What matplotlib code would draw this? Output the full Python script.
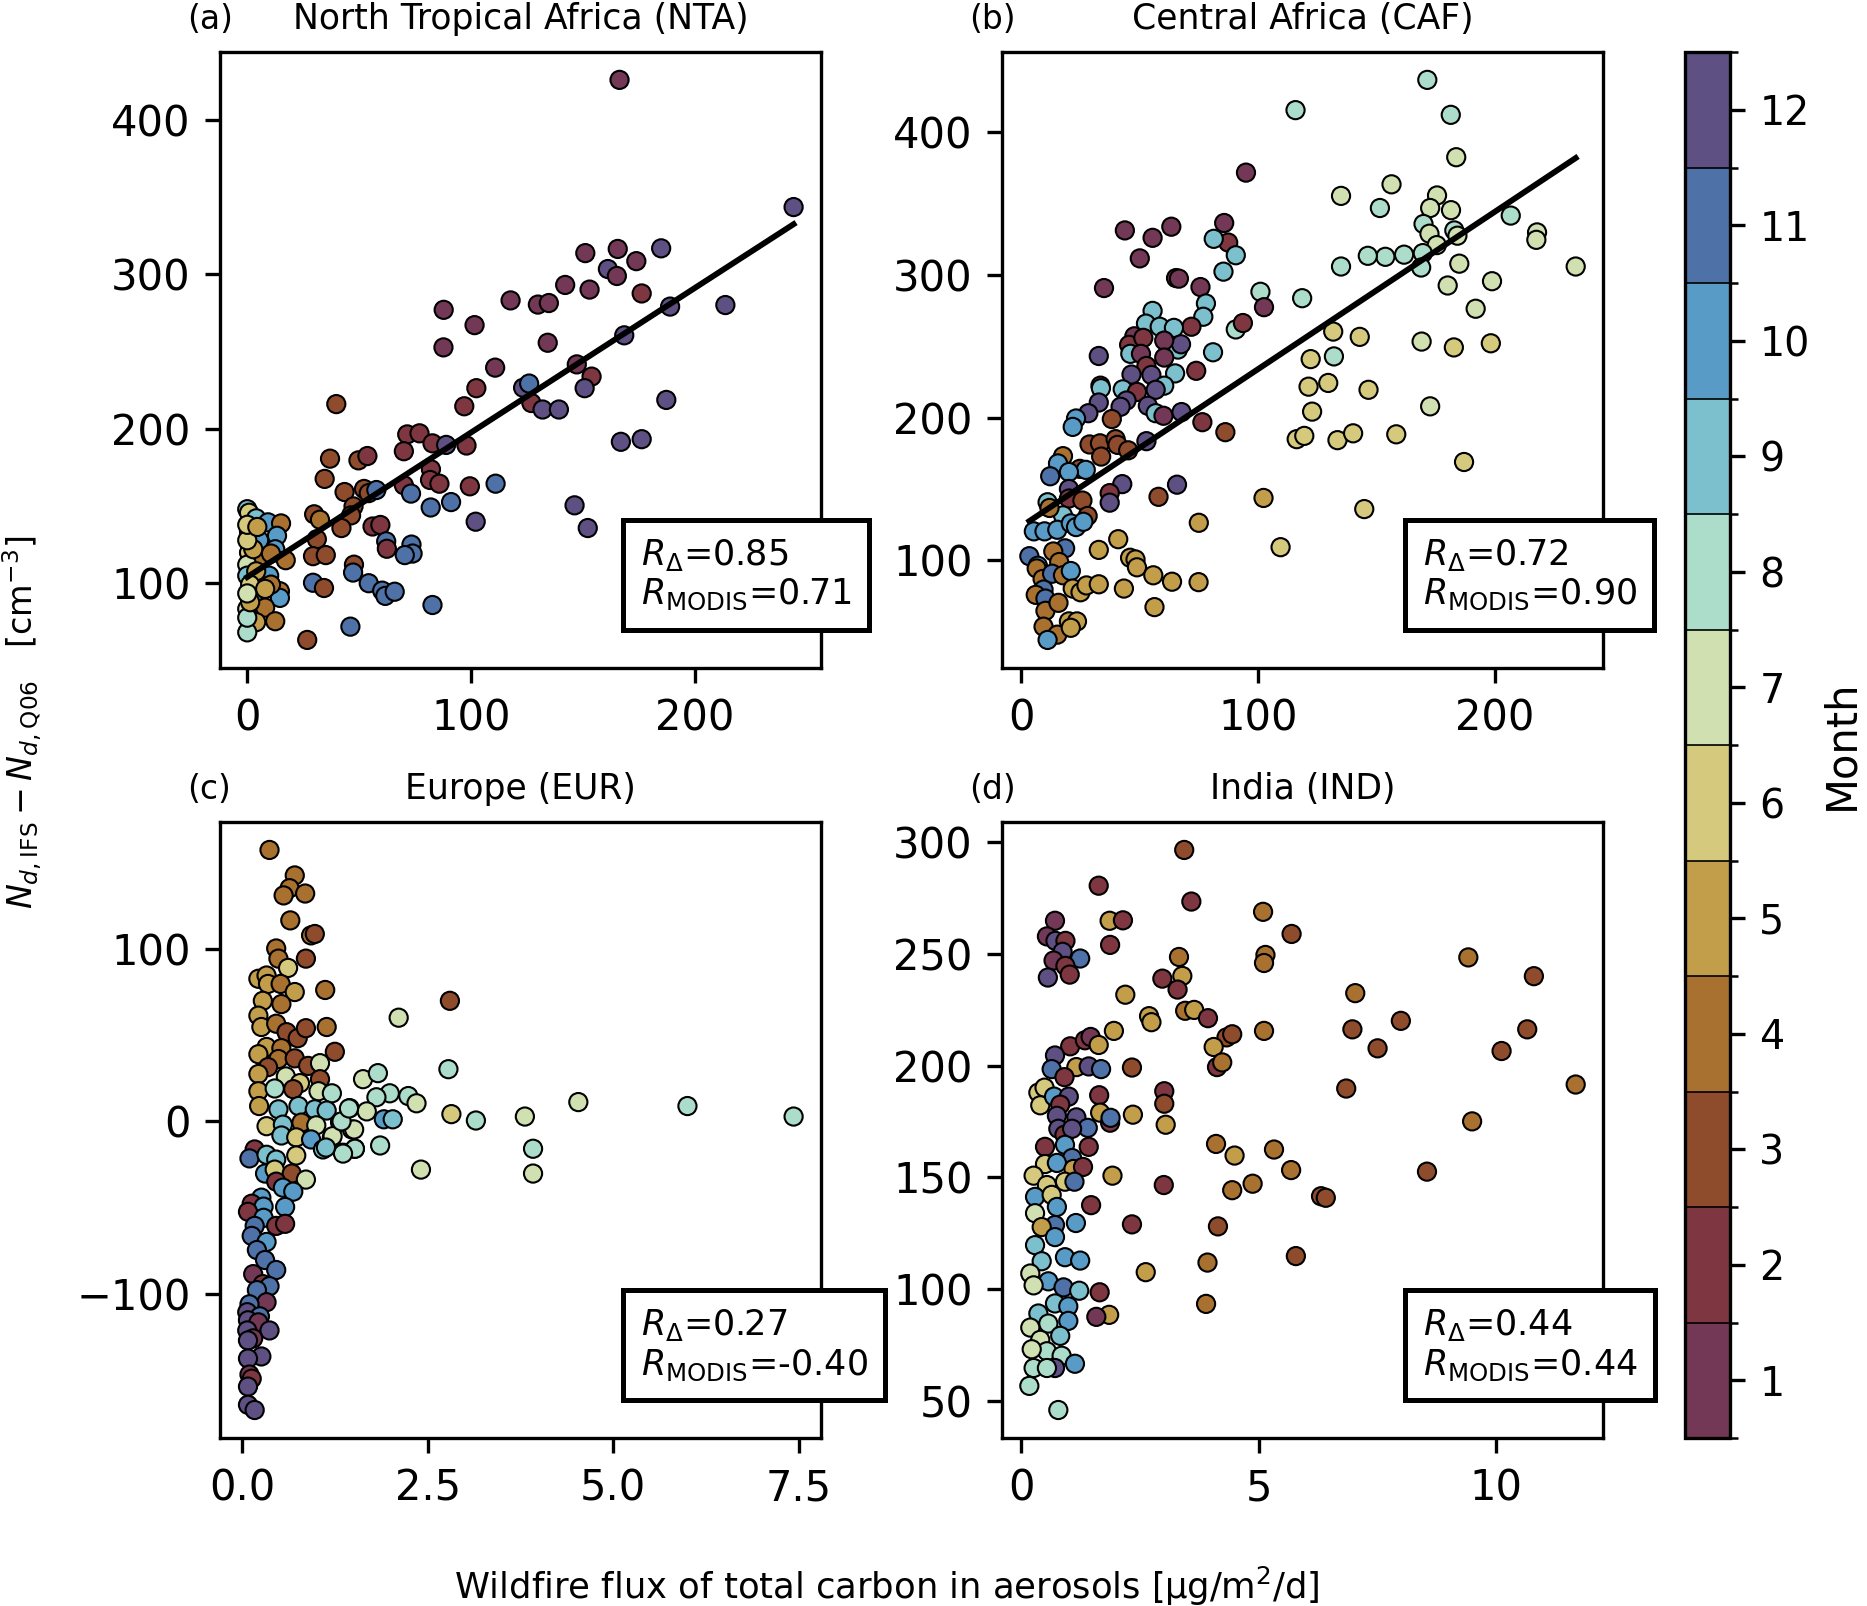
import matplotlib
matplotlib.use("Agg")
import matplotlib.pyplot as plt
import matplotlib.ticker as mticker
import numpy as np
from matplotlib.colors import BoundaryNorm, ListedColormap
from matplotlib.cm import ScalarMappable

# month colours (1 = Jan ... 12 = Dec)
month_colors = ["#723855", "#7e3740", "#8f4c2c", "#a8712f", "#c29d4a", "#d4c97c",
                "#d1e0b0", "#acdcca", "#7bc0cc", "#579bc6", "#4e72a8", "#5e5083"]
month_ticks = list(range(1, 13))

# (a) North Tropical Africa
nta_x = [166.4, 244.2, 151.1, 165.6, 173.9, 185.0, 161.2, 165.2, 142.1, 153.0, 176.3, 117.7,
         129.9, 134.8, 87.8, 101.6, 189.0, 213.7, 87.7, 134.3, 168.5, 110.8, 147.3, 153.9,
         102.4, 123.3, 126.0, 150.8, 187.3, 127.0, 132.0, 139.3, 97.0, 39.8, 167.0, 176.3,
         71.5, 77.0, 70.0, 82.8, 88.9, 98.0, 37.0, 49.7, 53.7, 34.6, 82.1, 81.7, 85.9, 70.0,
         99.5, 111.0, 43.5, 52.2, 54.3, 57.7, 73.2, 82.0, 91.1, 47.5, 46.4, 29.9, 32.5, 102.1,
         146.3, 152.2, 42.1, 56.0, 59.5, 31.1, 62.1, 62.4, 73.4, 73.9, 70.4, 29.4, 35.1, 47.7,
         47.3, 29.4, 34.3, 54.3, 60.3, 61.7, 65.9, 82.8, 46.1, 26.8,
         0.0, 0.8, 4.0, 9.3, 15.1, 0.8, 5.3, 13.3, 0.8, 12.5, 17.2, 6.6, 0.0, 0.0, 6.6, 9.8,
         11.9, 14.6, 14.6, 2.7, 0.0, 8.0, 4.0, 12.5, 0.0, 0.0, 2.7, 4.0, 10.6, 1.3, 1.3, 8.0,
         0.0, 0.0, 4.5, 10.6, 0.0]
nta_y = [425.7, 343.4, 313.6, 316.3, 308.4, 316.7, 303.3, 298.8, 293.0, 290.0, 287.5, 283.0,
         280.3, 281.3, 276.9, 267.0, 279.0, 280.0, 252.6, 255.6, 260.4, 239.5, 241.6, 233.7,
         226.2, 226.5, 229.2, 226.2, 218.6, 216.6, 212.4, 212.4, 214.5, 215.9, 191.5, 193.2,
         196.3, 197.0, 185.4, 190.5, 189.5, 189.1, 180.6, 179.5, 182.3, 167.5, 173.7, 166.8,
         164.4, 163.4, 162.7, 164.4, 159.0, 161.0, 158.3, 160.3, 158.0, 149.0, 152.5, 149.7,
         143.9, 144.6, 141.1, 139.8, 150.4, 135.7, 135.7, 136.7, 137.7, 128.5, 127.1, 122.3,
         125.0, 119.2, 118.2, 117.5, 118.2, 112.0, 106.9, 100.3, 96.9, 100.0, 95.2, 91.8, 94.5,
         85.9, 71.9, 63.3,
         147.9, 145.6, 142.0, 139.4, 138.7, 133.5, 127.8, 130.7, 119.8, 122.0, 114.9, 116.3,
         112.0, 104.9, 102.0, 104.9, 96.3, 94.8, 90.5, 92.0, 83.4, 84.2, 74.8, 75.4, 68.2, 77.7,
         122.0, 107.7, 99.1, 99.1, 87.7, 96.3, 127.8, 137.8, 136.4, 119.2, 93.4]
nta_month = [1, 12, 1, 1, 1, 12, 12, 1, 1, 1, 2, 1, 1, 1, 1, 1, 12, 12, 1, 1, 12, 1, 1, 2,
             2, 12, 11, 12, 12, 2, 12, 12, 2, 3, 12, 12, 2, 2, 2, 2, 12, 2, 3, 3, 2, 3, 2, 2,
             2, 2, 2, 11, 3, 3, 3, 11, 11, 11, 11, 3, 3, 3, 4, 12, 12, 12, 3, 2, 2, 3, 11, 2,
             11, 11, 11, 3, 3, 3, 11, 11, 3, 11, 11, 11, 11, 11, 11, 3,
             9, 6, 9, 10, 4, 9, 10, 10, 6, 10, 4, 4, 7, 9, 10, 10, 5, 4, 10, 10, 7, 4, 5, 4,
             8, 8, 5, 5, 4, 6, 5, 5, 6, 6, 5, 4, 7]

# (b) Central Africa
caf_x = [171.4, 115.8, 181.3, 183.6, 94.9, 135.0, 156.3, 151.4, 175.5, 172.6, 181.4, 169.8,
         172.3, 175.4, 182.8, 184.1, 206.6, 217.7, 217.4, 234.0, 169.5, 168.8, 161.6, 153.7,
         146.3, 135.0, 184.9, 180.0, 198.7, 191.8, 169.0, 182.6, 198.2, 172.6, 186.9, 131.7,
         142.9, 122.2, 132.0, 121.3, 129.6, 146.6, 122.8, 116.3, 119.5, 133.5, 140.1, 158.3,
         144.8, 109.5, 102.3, 75.0, 118.6, 101.0, 102.5, 90.6, 93.6, 85.7, 87.4, 81.3, 90.6,
         85.4, 63.4, 55.5, 43.8, 50.1, 65.4, 66.6, 75.7, 35.0, 78.0, 76.9, 71.9, 55.5, 52.7,
         58.5, 64.5, 66.2, 67.5, 60.4, 47.8, 45.6, 51.6, 46.1, 50.6, 60.4, 81.0, 32.8, 52.9,
         46.6, 55.0, 65.0, 60.4, 56.8, 73.9, 33.5, 33.7, 42.9, 48.9, 44.5, 42.0, 32.8, 28.4,
         53.5, 56.8, 60.1, 67.7, 38.3, 23.2, 21.8, 76.5, 86.2, 52.9, 28.9, 33.3, 39.9, 40.7,
         45.2, 33.8, 17.7, 15.6, 24.8, 27.3, 20.2, 12.3, 42.7, 65.8, 37.4, 37.4, 58.0, 20.2,
         20.2, 25.9, 11.2, 28.1, 17.7, 12.0, 5.4, 9.9, 15.3, 21.0, 23.2, 26.3, 18.6, 3.5, 7.1,
         13.6, 16.1, 6.6, 9.1, 13.1, 17.7, 21.0, 9.5, 6.2, 10.3, 10.3, 15.8, 9.5, 15.3, 11.2,
         20.2, 23.6, 21.0, 21.8, 25.1, 27.6, 32.8, 32.8, 41.0, 43.4, 46.0, 48.3, 48.9, 55.8,
         56.3, 63.7, 74.9]
caf_y = [436.8, 415.6, 412.3, 382.6, 371.8, 355.5, 363.6, 347.0, 355.8, 347.0, 345.5, 335.8,
         329.0, 321.0, 331.3, 327.6, 341.7, 329.9, 324.7, 306.0, 315.4, 305.3, 314.3, 312.8,
         313.5, 306.0, 308.0, 292.7, 295.7, 276.4, 253.4, 249.3, 252.2, 208.0, 169.0, 260.4,
         256.7, 241.1, 243.0, 221.8, 224.4, 219.6, 204.3, 185.0, 187.3, 184.3, 189.1, 188.4,
         136.0, 109.3, 143.8, 126.4, 283.8, 288.3, 277.5, 261.9, 266.4, 336.5, 322.8, 325.4,
         313.9, 302.4, 333.9, 326.1, 331.3, 311.7, 297.9, 297.5, 291.6, 290.9, 280.1, 270.8,
         263.8, 274.9, 266.0, 263.8, 263.0, 247.8, 251.5, 254.1, 257.1, 251.1, 256.0, 244.8,
         244.8, 242.2, 245.9, 243.3, 236.3, 230.3, 230.0, 231.1, 222.5, 219.6, 232.9, 222.5,
         220.7, 219.9, 218.1, 212.1, 207.7, 210.7, 203.2, 208.4, 203.2, 201.4, 204.0, 199.1,
         199.5, 193.6, 196.9, 189.9, 183.6, 181.3, 182.1, 185.0, 181.0, 177.2, 172.8, 173.1,
         168.0, 164.2, 163.5, 162.0, 159.0, 153.5, 153.1, 147.2, 140.5, 144.6, 150.1, 143.4,
         142.0, 140.8, 131.2, 131.6, 136.8, 120.4, 120.4, 121.5, 126.0, 123.4, 127.1, 108.5,
         103.0, 96.3, 106.3, 98.9, 94.4, 87.0, 90.7, 89.6, 92.6, 79.6, 75.9, 73.3, 64.7, 70.3,
         53.6, 48.0, 44.3, 57.3, 57.3, 52.8, 80.3, 77.7, 82.5, 107.4, 83.3, 114.9, 80.3, 101.9,
         100.7, 95.2, 89.6, 67.3, 85.1, 84.8]
caf_month = [8, 8, 8, 7, 1, 7, 7, 8, 7, 7, 7, 8, 7, 7, 8, 7, 8, 7, 7, 7, 8, 8, 8, 8, 8, 8,
             7, 7, 7, 7, 7, 6, 6, 7, 6, 6, 6, 6, 8, 6, 6, 6, 6, 6, 6, 6, 6, 6, 6, 6, 5, 5, 8,
             8, 1, 8, 2, 1, 2, 9, 9, 9, 1, 1, 1, 1, 1, 1, 1, 1, 9, 9, 2, 9, 9, 9, 9, 9, 12, 1,
             1, 2, 2, 9, 1, 1, 9, 12, 2, 12, 12, 9, 9, 12, 2, 2, 9, 9, 2, 12, 12, 12, 12, 12, 9,
             1, 12, 3, 10, 10, 2, 3, 12, 3, 3, 3, 3, 3, 3, 4, 10, 3, 10, 10, 11, 12, 12, 2, 12,
             3, 12, 2, 3, 9, 3, 9, 4, 10, 10, 10, 10, 10, 10, 11, 11, 10, 4, 4, 4, 4, 11, 4, 10,
             11, 4, 11, 4, 4, 4, 4, 10, 5, 5, 5, 5, 5, 5, 5, 5, 5, 5, 5, 5, 5, 5, 5, 5, 5]

# (c) Europe
eur_x = [0.37, 0.71, 0.64, 0.56, 0.85, 0.65, 0.93, 0.98, 0.46, 0.49, 0.62, 0.86, 0.22, 0.33,
         0.35, 0.52, 0.71, 1.12, 0.28, 0.53, 0.22, 0.26, 0.46, 0.60, 0.75, 0.86, 1.14, 0.33,
         0.53, 0.22, 0.49, 0.71, 0.89, 1.25, 1.05, 0.35, 0.22, 0.59, 0.78, 1.05, 0.22, 0.44,
         0.69, 1.03, 1.21, 0.23, 0.49, 0.76, 0.98, 1.14, 1.45, 1.63, 0.33, 0.55, 0.80, 1.00,
         1.32, 1.48, 0.53, 0.73, 0.93, 1.21, 1.09, 1.36, 1.52, 0.17, 0.10, 0.33, 0.46, 0.73,
         0.31, 0.44, 0.67, 0.86, 0.46, 0.55, 0.69, 0.26, 0.13, 0.29, 0.58, 0.08, 0.29, 0.46,
         0.58, 0.17, 0.13, 0.33, 0.20, 0.31, 0.46, 0.15, 0.28, 0.37, 0.20, 0.33, 0.10, 0.07,
         0.24, 0.08, 0.22, 0.37, 0.07, 0.15, 0.08, 0.26, 0.08, 0.10, 0.13, 0.08, 0.08, 0.17,
         2.80, 2.11, 2.78, 1.83, 1.99, 1.81, 2.24, 2.35, 1.68, 1.91, 2.03, 2.82, 3.15, 3.81,
         4.53, 6.00, 7.43, 3.92, 3.92, 2.41, 1.86, 1.51, 1.22, 1.34, 1.44, 1.52, 1.36, 1.13]
eur_y = [157.6, 142.8, 135.4, 131.2, 132.3, 116.7, 108.0, 108.8, 100.4, 94.5, 89.1, 94.5,
         82.8, 84.7, 79.8, 79.8, 75.1, 76.3, 70.0, 68.1, 61.4, 54.8, 56.7, 51.8, 48.3, 54.1,
         54.8, 43.2, 42.5, 39.0, 36.2, 36.6, 32.2, 40.4, 33.8, 31.5, 27.5, 26.1, 22.2, 24.5,
         17.5, 19.1, 18.7, 17.5, 16.3, 8.9, 7.0, 8.9, 7.0, 6.3, 7.7, 24.5, -2.8, -1.9, -0.7,
         -2.3, -0.5, -4.7, -8.2, -9.3, -10.5, -9.3, -16.3, -18.2, -15.9, -16.3, -21.5, -19.4,
         -22.2, -19.8, -30.3, -28.0, -30.3, -33.8, -35.0, -38.5, -40.8, -44.3, -47.8, -49.5,
         -49.7, -52.5, -56.0, -60.7, -59.5, -60.7, -66.5, -70.0, -74.7, -80.5, -86.3, -88.7,
         -94.5, -95.7, -98.0, -105.0, -106.2, -110.8, -113.2, -115.5, -116.7, -121.4, -121.4,
         -126.0, -127.2, -136.5, -137.7, -147.0, -149.4, -154.0, -164.6, -167.6,
         70.0, 60.2, 30.3, 28.0, 16.3, 14.0, 14.7, 10.5, 5.8, 1.2, 1.2, 4.2, 0.5, 2.8, 11.2,
         8.9, 2.8, -15.9, -30.3, -28.0, -14.0, -4.7, -8.6, 0.0, 7.5, -15.9, -18.7, -15.2]
eur_month = [4, 4, 4, 4, 4, 4, 4, 3, 4, 4, 6, 3, 5, 5, 5, 4, 5, 4, 5, 4, 5, 5, 4, 3, 3, 3,
             4, 5, 4, 5, 4, 3, 3, 3, 7, 3, 5, 7, 6, 3, 5, 8, 3, 7, 8, 5, 9, 9, 9, 9, 8, 7, 6,
             9, 4, 7, 8, 7, 9, 6, 10, 7, 9, 8, 8, 2, 11, 9, 9, 6, 10, 6, 3, 7, 2, 10, 10, 10,
             2, 10, 10, 2, 10, 2, 2, 11, 11, 10, 11, 11, 11, 1, 2, 11, 11, 1, 11, 12, 11, 12,
             1, 12, 12, 1, 12, 12, 12, 1, 2, 12, 12, 12,
             3, 7, 8, 8, 8, 8, 8, 7, 7, 10, 9, 6, 8, 7, 7, 8, 8, 8, 7, 7, 8, 7, 7, 8, 8, 8, 8, 9]

# (d) India
ind_x = [3.43, 1.63, 3.58, 5.09, 5.69, 1.86, 2.14, 1.87, 3.32, 5.14, 5.11, 9.41, 10.79, 3.39,
         2.97, 3.29, 2.19, 7.03, 3.45, 3.64, 3.93, 2.69, 2.74, 1.95, 5.11, 6.97, 7.99, 10.65,
         7.50, 10.11, 4.32, 4.44, 4.05, 4.12, 4.23, 2.33, 11.67, 6.84, 3.01, 3.01, 2.35, 3.04,
         9.49, 1.92, 3.00, 4.10, 4.49, 5.32, 5.68, 4.87, 4.44, 8.54, 6.31, 6.41, 1.47, 2.33,
         4.14, 5.78, 3.92, 2.62, 1.65, 3.89, 1.85, 1.58, 1.64, 1.66, 1.87, 1.88,
         0.71, 0.54, 0.72, 0.93, 0.87, 1.24, 0.68, 0.93, 1.02, 0.56,
         1.03, 1.34, 1.46, 1.63, 0.71, 0.64, 1.16, 1.42, 1.68, 0.91, 0.36, 0.49, 0.40, 0.69,
         1.00, 0.82, 0.75, 1.16, 1.40, 0.78, 0.91, 1.07, 0.92, 0.50, 1.42, 1.07, 0.50, 0.75,
         1.10, 1.30, 0.26, 0.54, 0.92, 1.12, 0.29, 0.64, 0.75, 0.29, 0.71, 0.43, 1.15, 0.29,
         0.71, 0.43, 0.92, 1.24, 0.19, 0.57, 0.89, 1.22, 0.26, 0.71, 0.99, 0.36, 0.99, 0.57,
         0.19, 0.82, 0.40, 0.54, 0.22, 0.85, 0.26, 0.71, 0.54, 1.13, 0.17, 0.78]
ind_y = [296.6, 280.6, 273.5, 268.9, 259.0, 264.9, 265.1, 254.1, 248.7, 249.6, 246.0, 248.5,
         240.1, 240.2, 239.0, 234.1, 231.8, 232.5, 224.6, 225.0, 221.3, 222.2, 219.5, 215.6,
         215.6, 216.3, 220.1, 216.3, 207.8, 206.6, 212.7, 214.1, 208.4, 199.4, 201.5, 199.2,
         191.6, 189.8, 188.6, 183.0, 178.1, 173.6, 175.1, 150.8, 146.6, 165.0, 159.8, 162.5,
         153.3, 147.2, 144.3, 152.6, 141.6, 140.9, 137.6, 129.0, 128.1, 114.8, 111.9, 107.6,
         98.6, 93.4, 88.5, 87.6, 186.8, 179.0, 174.5, 176.7,
         264.9, 257.9, 255.9, 255.9, 251.0, 248.0, 247.1, 244.7, 240.8, 239.5,
         208.7, 211.4, 212.9, 209.3, 204.6, 198.5, 199.4, 199.7, 198.5, 194.9, 188.0, 190.2,
         182.3, 186.2, 186.2, 182.6, 177.6, 176.9, 172.2, 171.8, 169.1, 171.8, 164.6, 163.7,
         163.7, 158.7, 156.0, 156.5, 153.8, 154.7, 150.8, 146.6, 148.1, 148.1, 141.3, 142.2,
         136.8, 134.0, 128.7, 127.8, 129.6, 119.7, 123.3, 112.5, 114.3, 112.8, 107.0, 103.5,
         100.8, 99.3, 101.7, 93.6, 92.3, 89.1, 85.8, 84.6, 82.8, 79.1, 77.3, 72.2, 73.1, 70.2,
         64.7, 64.7, 64.7, 66.6, 56.7, 45.9]
ind_month = [3, 2, 2, 4, 3, 5, 2, 2, 4, 4, 4, 4, 3, 5, 2, 2, 5, 4, 4, 5, 2, 5, 5, 5, 4, 3,
             3, 3, 3, 3, 3, 3, 5, 2, 4, 3, 4, 3, 2, 3, 5, 5, 4, 5, 2, 4, 5, 4, 4, 4, 4, 3, 3,
             3, 2, 2, 3, 3, 4, 5, 2, 4, 5, 1, 2, 5, 2, 11,
             1, 1, 12, 2, 12, 11, 1, 2, 2, 12,
             2, 2, 1, 5, 12, 11, 5, 12, 11, 2, 6, 6, 6, 10, 12, 2, 12, 12, 11, 12, 2, 12, 10,
             2, 2, 11, 6, 10, 5, 2, 6, 6, 6, 11, 10, 6, 10, 7, 11, 5, 10, 9, 10, 9, 10, 10, 7,
             10, 11, 9, 7, 9, 10, 9, 10, 8, 7, 9, 7, 8, 7, 8, 8, 12, 8, 10, 8, 8]

# regression lines (slope, intercept) for the two African regions
nta_fit = (0.935, 104.0)
caf_fit = (1.104, 123.7)

panel_titles = ["North Tropical Africa (NTA)", "Central Africa (CAF)", "Europe (EUR)", "India (IND)"]
panel_tags = ["(a)", "(b)", "(c)", "(d)"]
r_delta = ["0.85", "0.72", "0.27", "0.44"]
r_modis = ["0.71", "0.90", "-0.40", "0.44"]
y_steps = [100, 100, 100, 50]

cmap = ListedColormap(month_colors)
norm = BoundaryNorm(np.arange(0.5, 13.5, 1.0), cmap.N)

fig = plt.figure(figsize=(1867 / 300, 1606 / 300), dpi=300)
positions = [[0.1178, 0.5841, 0.3219, 0.3836], [0.5367, 0.5841, 0.3219, 0.3836],
             [0.1178, 0.1046, 0.3219, 0.3836], [0.5367, 0.1046, 0.3219, 0.3836]]
datasets = [(nta_x, nta_y, nta_month, nta_fit), (caf_x, caf_y, caf_month, caf_fit),
            (eur_x, eur_y, eur_month, None), (ind_x, ind_y, ind_month, None)]

for i, (pos, (xs, ys, ms, fit)) in enumerate(zip(positions, datasets)):
    ax = fig.add_axes(pos)
    ax.scatter(xs, ys, c=ms, cmap=cmap, norm=norm, s=19,
               edgecolors="black", linewidths=0.5, zorder=2)
    if fit is not None:
        xl = np.array([min(xs), max(xs)])
        ax.plot(xl, fit[0] * xl + fit[1], color="black", lw=1.4, zorder=3)
    ax.yaxis.set_major_locator(mticker.MultipleLocator(y_steps[i]))
    ax.set_title(panel_titles[i], fontsize=8.3, pad=5.5)
    ax.text(-0.055, 1.026, panel_tags[i], transform=ax.transAxes,
            fontsize=7.9, ha="left", va="bottom")
    ax.text(0.70, 0.09, f"$R_\\Delta$={r_delta[i]}\n$R_\\mathrm{{MODIS}}$={r_modis[i]}",
            transform=ax.transAxes, fontsize=8.4, ha="left", va="bottom", linespacing=1.15,
            bbox=dict(boxstyle="square,pad=0.5", fc="white", ec="black", lw=1.2), zorder=5)
    ax.tick_params(labelsize=10)

ax_c = fig.axes[2]
ax_c.xaxis.set_major_locator(mticker.MultipleLocator(2.5))
ax_c.xaxis.set_major_formatter(mticker.FormatStrFormatter("%.1f"))

cax = fig.add_axes([0.9024, 0.1046, 0.0243, 0.863])
cb = fig.colorbar(ScalarMappable(norm=norm, cmap=cmap), cax=cax,
                  ticks=month_ticks, drawedges=True)
cb.ax.yaxis.set_minor_locator(mticker.FixedLocator(np.arange(0.5, 13.0, 1.0)))
cb.ax.tick_params(labelsize=9.5)
cb.set_label("Month", fontsize=10, labelpad=2.5)

fig.text(0.475, 0.012, "Wildfire flux of total carbon in aerosols [µg/m$^2$/d]",
         ha="center", va="center", fontsize=8.5)
fig.text(0.012, 0.55, r"$N_{d,\mathrm{IFS}} - N_{d,\mathrm{Q06}}$   [cm$^{-3}$]",
         rotation=90, ha="center", va="center", fontsize=8.0)

fig.savefig("out.png", dpi=300)
